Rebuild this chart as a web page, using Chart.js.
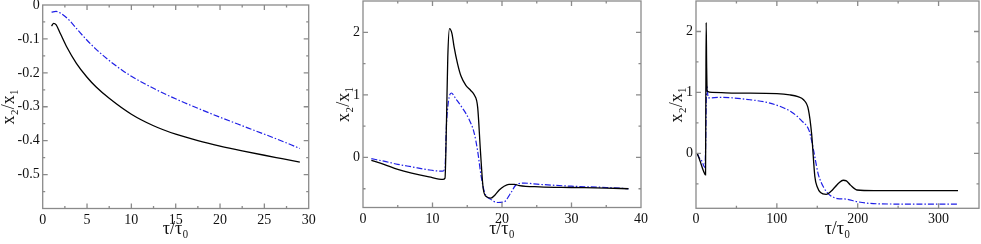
<!DOCTYPE html>
<html><head><meta charset="utf-8">
<script src="https://cdn.jsdelivr.net/npm/chart.js@4.4.1/dist/chart.umd.min.js"></script>
<style>
html,body{margin:0;padding:0;background:#fff;width:981px;height:244px;overflow:hidden}
canvas{position:absolute;top:0}
</style></head><body>
<canvas id="c1" width="327" height="244" style="left:0px"></canvas>
<canvas id="c2" width="327" height="244" style="left:327px"></canvas>
<canvas id="c3" width="327" height="244" style="left:654px"></canvas>
<script>
// ---------- Panel 1 ----------
const p1BlackX = [1, 1.24, 1.5, 2, 2.7, 3.8, 5, 6, 7.5, 10, 12.5, 15, 17.5, 20, 22.5, 25, 27, 29];
const p1BlackY = [-0.062, -0.054, -0.058, -0.085, -0.123, -0.172, -0.213, -0.241, -0.275, -0.322, -0.356, -0.381, -0.4, -0.416, -0.43, -0.443, -0.453, -0.463];
const p1BlueX = [1, 1.5, 2, 3, 4, 5, 6, 7, 8, 9, 10, 12, 14, 16, 18, 20, 22, 24, 26, 28, 29];
const p1BlueY = [-0.021, -0.019, -0.024, -0.045, -0.075, -0.104, -0.13, -0.153, -0.174, -0.193, -0.21, -0.239, -0.265, -0.288, -0.31, -0.331, -0.351, -0.371, -0.391, -0.412, -0.423];
const p1XTicks = [0, 5, 10, 15, 20, 25, 30];
const p1YTicks = [-0.5, -0.4, -0.3, -0.2, -0.1, 0];

// ---------- Panel 2 ----------
const p2BlackX = [1.2, 3, 5, 7, 9.5, 11.5, 11.8, 12.0, 12.2, 12.45, 12.8, 13.1, 13.6, 14.1, 14.8, 15.5, 16.0, 16.5, 16.9, 17.3, 17.8, 18.4, 19.0, 19.6, 20.3, 21.0, 21.8, 22.5, 25.4, 30, 35, 38.2];
const p2BlackY = [-0.048, -0.11, -0.19, -0.25, -0.31, -0.35, -0.33, 0.5, 1.6, 2.06, 1.98, 1.77, 1.5, 1.3, 1.15, 1.07, 1.0, 0.8, 0.1, -0.5, -0.63, -0.65, -0.6, -0.52, -0.46, -0.43, -0.43, -0.45, -0.47, -0.48, -0.49, -0.5];
const p2BlueX = [1.2, 3, 5, 7, 9.5, 11.45, 11.8, 12.0, 12.3, 12.7, 13.4, 14.3, 15.3, 16.0, 16.5, 17.0, 17.5, 18.4, 19.4, 20.3, 21.3, 22.1, 23.2, 25.4, 30, 35, 38.2];
const p2BlueY = [-0.02, -0.06, -0.11, -0.15, -0.2, -0.22, -0.16, 0.5, 0.9, 1.03, 0.93, 0.79, 0.6, 0.39, 0.1, -0.3, -0.56, -0.67, -0.72, -0.71, -0.56, -0.43, -0.41, -0.43, -0.46, -0.48, -0.5];
const p2XTicks = [0, 10, 20, 30, 40];
const p2YTicks = [0, 1, 2];

// ---------- Panel 3 ----------
const p3BlackX = [1.5, 4.9, 9, 11.8, 12.2, 12.6, 13.2, 14, 20, 50, 100, 116, 126, 133, 139, 143, 147, 150, 154, 161, 167, 172, 177, 182, 186, 191, 199, 220, 260, 324];
const p3BlackY = [0, -0.12, -0.28, -0.35, 1.0, 2.15, 1.4, 1.02, 1.0, 0.99, 0.98, 0.96, 0.93, 0.88, 0.72, 0.32, -0.38, -0.55, -0.64, -0.67, -0.62, -0.55, -0.48, -0.44, -0.45, -0.52, -0.6, -0.61, -0.61, -0.61];
const p3BlueX = [1.5, 4, 7, 11.1, 12.0, 12.6, 13.2, 15.2, 30, 67, 90, 108, 118, 125, 131, 137, 140, 143, 147, 151, 155, 158, 162, 166, 170, 175, 186, 199, 215, 250, 290, 324];
const p3BlueY = [0, -0.07, -0.12, -0.23, 0.2, 0.8, 1.12, 0.91, 0.92, 0.88, 0.83, 0.75, 0.68, 0.61, 0.53, 0.45, 0.37, 0.21, -0.06, -0.33, -0.48, -0.56, -0.64, -0.69, -0.72, -0.74, -0.75, -0.79, -0.82, -0.83, -0.83, -0.83];
const p3XTicks = [0, 100, 200, 300];
const p3YTicks = [0, 1, 2];

const FONT = "'Liberation Serif', 'DejaVu Serif', serif";
const pts = (xs, ys) => xs.map((x, i) => ({x, y: ys[i]}));

const framePlugin = {
  id: 'frame',
  afterDraw(chart) {
    const {ctx, chartArea: {left, right, top, bottom}} = chart;
    const xs = chart.scales.x, ys = chart.scales.y;
    const cfg = chart.options.plugins.frame;
    ctx.save();
    ctx.strokeStyle = '#8a8a8a';
    ctx.lineWidth = 1.3;
    ctx.strokeRect(left, top, right - left, bottom - top);
    ctx.beginPath();
    const drawX = (v, len) => {
      const p = xs.getPixelForValue(v);
      if (p <= left + 0.5 || p >= right - 0.5) return;
      ctx.moveTo(p, bottom); ctx.lineTo(p, bottom - len);
      ctx.moveTo(p, top); ctx.lineTo(p, top + len);
    };
    const drawY = (v, len) => {
      const p = ys.getPixelForValue(v);
      if (p <= top + 0.5 || p >= bottom - 0.5) return;
      ctx.moveTo(left, p); ctx.lineTo(left + len, p);
      ctx.moveTo(right, p); ctx.lineTo(right - len, p);
    };
    const xt = cfg.xTicks, yt = cfg.yTicks;
    const xstep = xt[1] - xt[0], ystep = yt[1] - yt[0];
    xt.forEach(v => drawX(v, 5));
    for (let v = xt[0] - xstep / 2; v <= xs.max; v += xstep) if (v >= xs.min) drawX(v, 2.5);
    yt.forEach(v => drawY(v, 5));
    for (let v = yt[0] - ystep / 2; v <= ys.max + 1e-9; v += ystep) if (v >= ys.min) drawY(v, 2.5);
    ctx.stroke();
    ctx.restore();
  }
};

function makeChart(id, c) {
  new Chart(document.getElementById(id), {
    type: 'line',
    data: {datasets: [
      {data: pts(c.bx, c.by), borderColor: '#000', borderWidth: 1.3},
      {data: pts(c.ux, c.uy), borderColor: '#1f1fe6', borderWidth: 1.2, borderDash: [6, 2, 1.5, 2]}
    ]},
    options: {
      responsive: false, animation: false, events: [],
      layout: {padding: {left: 0, top: c.top, right: c.right, bottom: 0}},
      elements: {point: {radius: 0}, line: {cubicInterpolationMode: 'monotone'}},
      plugins: {legend: {display: false}, tooltip: {enabled: false}, frame: {xTicks: c.xTicks, yTicks: c.yTicks}},
      scales: {
        x: {
          type: 'linear', min: c.xmin, max: c.xmax,
          grid: {display: false, drawTicks: false}, border: {display: false},
          ticks: {padding: 3, color: '#111', font: {family: FONT, size: 14}, maxRotation: 0, autoSkip: false, callback: v => String(v)},
          afterBuildTicks: s => { s.ticks = c.xTicks.map(v => ({value: v})); },
          afterFit: s => { s.height = c.xh; s.paddingLeft = 0; s.paddingRight = 0; },
          title: {display: true, text: 'τ/τ₀', color: '#111', font: {family: FONT, size: 18, lineHeight: 1}, padding: {top: 0, bottom: c.xtpad}}
        },
        y: {
          type: 'linear', min: c.ymin, max: c.ymax,
          grid: {display: false, drawTicks: false}, border: {display: false},
          ticks: {padding: 3, color: '#111', font: {family: FONT, size: 14}, autoSkip: false, callback: v => String(v)},
          afterBuildTicks: s => { s.ticks = c.yTicks.map(v => ({value: v})); },
          afterFit: s => { s.width = c.yw; s.paddingTop = 0; s.paddingBottom = 0; },
          title: {display: true, text: 'x₂/x₁', color: '#111', font: {family: FONT, size: 18, lineHeight: 1}, padding: {top: c.ytpad, bottom: 0}}
        }
      }
    },
    plugins: [framePlugin]
  });
}

makeChart('c1', {bx: p1BlackX, by: p1BlackY, ux: p1BlueX, uy: p1BlueY, xTicks: p1XTicks, yTicks: p1YTicks,
  xmin: 0, xmax: 30, ymin: -0.6, ymax: 0, top: 5, right: 18.3, yw: 42.7, xh: 35.5, xtpad: 5.5, ytpad: 0.5});
makeChart('c2', {bx: p2BlackX, by: p2BlackY, ux: p2BlueX, uy: p2BlueY, xTicks: p2XTicks, yTicks: p2YTicks,
  xmin: 0, xmax: 40, ymin: -0.8, ymax: 2.5, top: 1, right: 13, yw: 36, xh: 36.5, xtpad: 5.5, ytpad: 8});
makeChart('c3', {bx: p3BlackX, by: p3BlackY, ux: p3BlueX, uy: p3BlueY, xTicks: p3XTicks, yTicks: p3YTicks,
  xmin: 0, xmax: 350, ymin: -0.9, ymax: 2.5, top: 1, right: 2, yw: 42, xh: 35.7, xtpad: 5.5, ytpad: 14.5});
</script>
</body></html>
